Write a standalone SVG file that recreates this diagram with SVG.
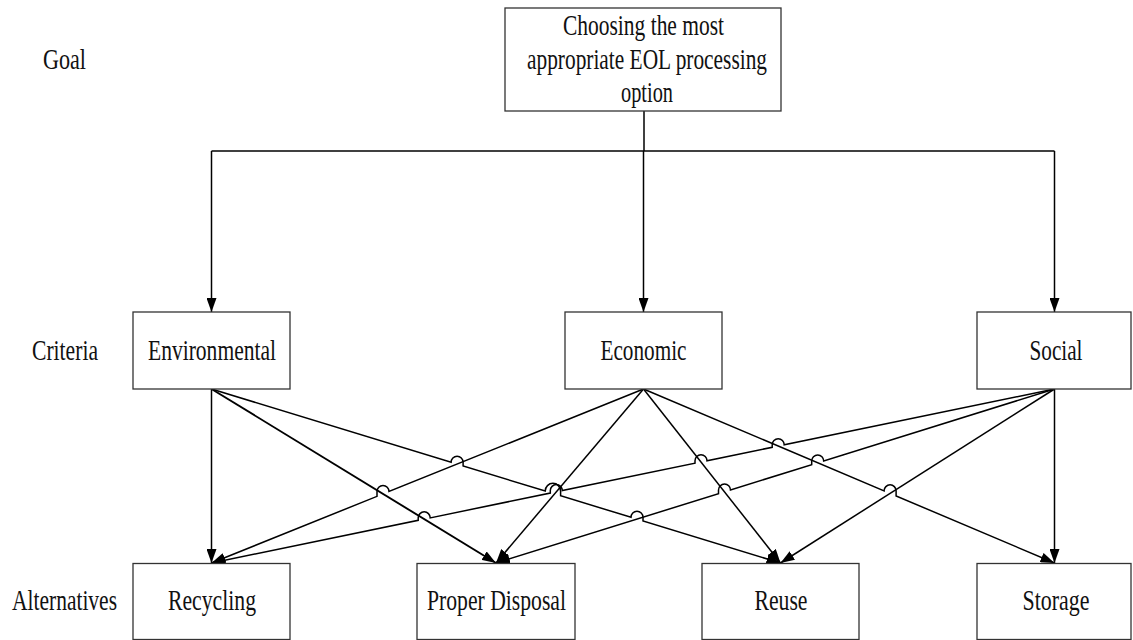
<svg xmlns="http://www.w3.org/2000/svg" width="1133" height="640" viewBox="0 0 1133 640">
<style>
.box{fill:#fff;stroke:#333;stroke-width:1.3}
.t{font-family:"Liberation Serif","Times New Roman",serif;font-size:29px;fill:#111;text-anchor:middle}
.g{font-size:30px}
.c{fill:none;stroke:#000;stroke-width:1.5;stroke-linejoin:miter}
</style>
<defs>
<marker id="arr" viewBox="0 0 14 10" refX="14" refY="5" markerWidth="14" markerHeight="10" markerUnits="userSpaceOnUse" orient="auto">
<path d="M0,0 L14,5 L0,10 z" fill="#000"/>
</marker>
</defs>
<rect width="1133" height="640" fill="#fff"/>

<g id="level-labels">
<text class="t" x="64.5" y="69" textLength="43" lengthAdjust="spacingAndGlyphs">Goal</text>
<text class="t" x="65" y="360" textLength="66" lengthAdjust="spacingAndGlyphs">Criteria</text>
<text class="t" x="64.5" y="610" textLength="105" lengthAdjust="spacingAndGlyphs">Alternatives</text>
</g>

<g id="connectors">
<path class="c" d="M644,111 L644,151"/>
<path class="c" d="M211.5,151 L1054.5,151"/>
<path class="c" d="M211.5,151 L211.5,312" marker-end="url(#arr)"/>
<path class="c" d="M643.5,151 L643.5,312" marker-end="url(#arr)"/>
<path class="c" d="M1054.5,151 L1054.5,312" marker-end="url(#arr)"/>

<!-- Environmental -->
<path class="c" d="M211.5,389 L211.5,563" marker-end="url(#arr)"/>
<path class="c" style="stroke-width:1.9" d="M211.5,389 L496,563" marker-end="url(#arr)"/>
<path class="c" d="M211.5,389 L451.1,462.27 A6 6 0 0 1 463.1,462.27 L463.1,465.94 L545.2,491.05 A7.7 7.7 0 0 1 560.6,491.05 L560.6,495.75 L631,517.28 A6 6 0 0 1 643,517.28 L643,520.95 L780.5,563" marker-end="url(#arr)"/>

<!-- Economic -->
<path class="c" d="M643.5,389 L389,491.51 A6 6 0 0 0 377,491.51 L377,496.35 L211.5,563" marker-end="url(#arr)"/>
<path class="c" d="M643.5,389 L496,563" marker-end="url(#arr)"/>
<path class="c" d="M643.5,389 L780.5,563" marker-end="url(#arr)"/>
<path class="c" d="M643.5,389 L884.1,490.86 A6 6 0 0 1 896.1,490.86 L896.1,495.94 L1054.5,563" marker-end="url(#arr)"/>

<!-- Social -->
<path class="c" d="M1054.5,389 L784.2,444.79 A6 6 0 0 0 772.2,444.79 L772.2,447.27 L707,460.72 A6 6 0 0 0 695,460.72 L695,463.2 L562.3,490.59 A6 6 0 0 0 550.3,490.59 L550.3,493.07 L430.2,517.86 A6 6 0 0 0 418.2,517.86 L418.2,520.33 L211.5,563" marker-end="url(#arr)"/>
<path class="c" d="M1054.5,389 L823.7,460.91 A6 6 0 0 0 811.7,460.91 L811.7,464.64 L730.5,489.94 A6 6 0 0 0 718.5,489.94 L718.5,493.68 L496,563" marker-end="url(#arr)"/>
<path class="c" d="M1054.5,389 L780.5,563" marker-end="url(#arr)"/>
<path class="c" d="M1054.5,389 L1054.5,563" marker-end="url(#arr)"/>
</g>

<g id="goal">
<rect class="box" x="505" y="8" width="276" height="103"/>
<text class="t g" x="643.5" y="35" textLength="161" lengthAdjust="spacingAndGlyphs">Choosing the most</text>
<text class="t g" x="647" y="69" textLength="240" lengthAdjust="spacingAndGlyphs">appropriate EOL processing</text>
<text class="t g" x="647" y="102" textLength="52" lengthAdjust="spacingAndGlyphs">option</text>
</g>

<g id="environmental">
<rect class="box" x="133" y="312" width="157" height="77"/>
<text class="t" x="212" y="360" textLength="128" lengthAdjust="spacingAndGlyphs">Environmental</text>
</g>
<g id="economic">
<rect class="box" x="565" y="312" width="157" height="77"/>
<text class="t" x="643.5" y="360" textLength="86" lengthAdjust="spacingAndGlyphs">Economic</text>
</g>
<g id="social">
<rect class="box" x="977" y="312" width="154" height="77"/>
<text class="t" x="1056" y="360" textLength="53" lengthAdjust="spacingAndGlyphs">Social</text>
</g>

<g id="recycling">
<rect class="box" x="133" y="563.5" width="157" height="76"/>
<text class="t" x="212" y="610" textLength="88" lengthAdjust="spacingAndGlyphs">Recycling</text>
</g>
<g id="proper-disposal">
<rect class="box" x="417" y="563.5" width="158" height="76"/>
<text class="t" x="496.5" y="610" textLength="139" lengthAdjust="spacingAndGlyphs">Proper Disposal</text>
</g>
<g id="reuse">
<rect class="box" x="702" y="563.5" width="157" height="76"/>
<text class="t" x="781" y="610" textLength="53" lengthAdjust="spacingAndGlyphs">Reuse</text>
</g>
<g id="storage">
<rect class="box" x="977" y="563.5" width="154" height="76"/>
<text class="t" x="1056" y="610" textLength="67" lengthAdjust="spacingAndGlyphs">Storage</text>
</g>
</svg>
